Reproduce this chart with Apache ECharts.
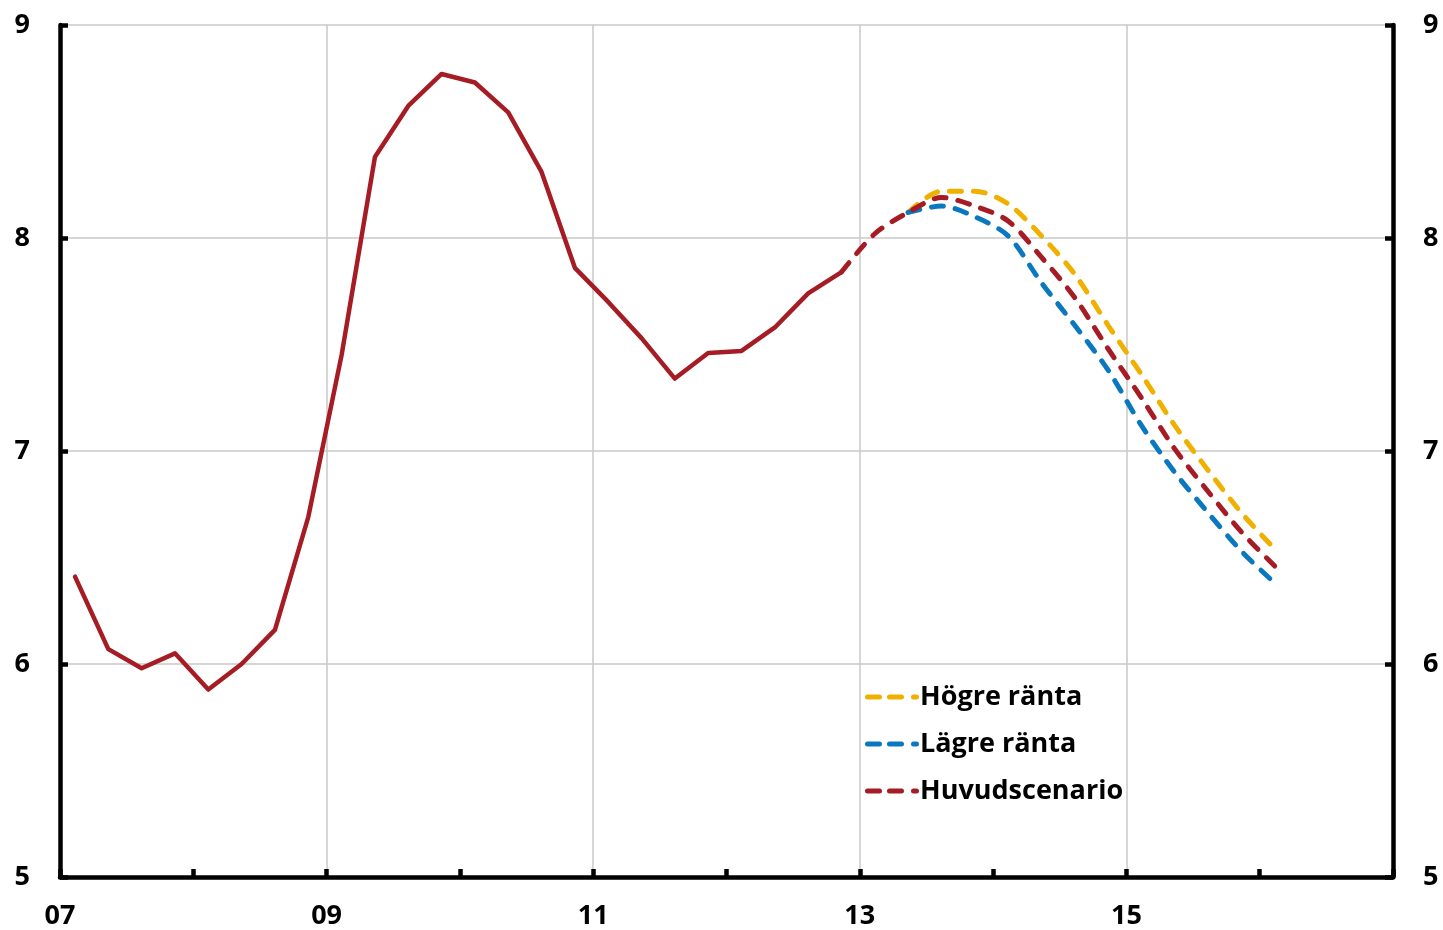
<!DOCTYPE html>
<html>
<head>
<meta charset="utf-8">
<script src="https://cdn.jsdelivr.net/npm/echarts@6/dist/echarts.min.js"></script>
<style>
html,body{margin:0;padding:0;background:#fff;}
#chart{width:1443px;height:930px;}
</style>
</head>
<body>
<div id="chart"></div>
<script>
// Quarterly data, 2007K1 onwards
const startYear = 2007;
const historik = [6.41, 6.07, 5.98, 6.05, 5.88, 6.00, 6.16, 6.69, 7.45, 8.38, 8.62, 8.77,
                  8.73, 8.59, 8.31, 7.86, 7.70, 7.53, 7.34, 7.46, 7.47, 7.58, 7.74, 7.84];
// forecasts
const huvudStart = 23; // 2012K4
const huvudscenario = [7.84, 8.02, 8.12, 8.19, 8.15, 8.08, 7.91, 7.72, 7.48, 7.25, 7.01, 6.81, 6.62, 6.46];
const scenStart = 25; // 2013K2
const hogreRanta = [8.12, 8.22, 8.22, 8.16, 8.01, 7.83, 7.59, 7.36, 7.12, 6.91, 6.71, 6.54];
const lagreRanta = [8.12, 8.15, 8.10, 8.01, 7.79, 7.59, 7.38, 7.12, 6.90, 6.71, 6.53, 6.38];
const yTicks = [5, 6, 7, 8, 9];
const seriesNames = ['Högre ränta', 'Lägre ränta', 'Huvudscenario'];

function qx(i) { // quarter index -> decimal year at mid-quarter
  const y = startYear + Math.floor(i / 4);
  const q = (i % 4) + 1;
  return y + (q - 0.55) / 4;
}
function toPairs(arr, start) { return arr.map((v, k) => [qx(start + k), v]); }

const RED = '#A51C24', YELLOW = '#F0B000', BLUE = '#0A78BF';
const FONT = 'Open Sans';
const dashIcon = 'path://M2.5,0H14.5A2.5,2.5,0,0,1,14.5,5H2.5A2.5,2.5,0,0,1,2.5,0Z M24.5,0H36.5A2.5,2.5,0,0,1,36.5,5H24.5A2.5,2.5,0,0,1,24.5,0Z M48.5,0H51.5A2.5,2.5,0,0,1,51.5,5H48.5A2.5,2.5,0,0,1,48.5,0Z';

const dashStyle = (c) => ({ color: c, width: 5, type: [12, 12], cap: 'round' });

const chart = echarts.init(document.getElementById('chart'));
chart.setOption({
  backgroundColor: '#fff',
  animation: false,
  textStyle: { fontFamily: FONT },
  grid: { left: 60, right: 50, top: 25, bottom: 53 },
  legend: {
    orient: 'vertical', left: 860, top: 677,
    data: seriesNames.map(n => ({ name: n, icon: dashIcon })),
    itemWidth: 56, itemHeight: 5, itemGap: 17,
    textStyle: { fontFamily: FONT, fontSize: 27, fontWeight: 'bold', color: '#000', lineHeight: 30, padding: [0, 0, 0, -5] },
    selectedMode: false
  },
  xAxis: {
    type: 'value', min: 2007, max: 2017, interval: 2,
    axisLine: { show: true, onZero: false, lineStyle: { color: '#000', width: 4.5 } },
    axisTick: { show: true, inside: true, length: 8, lineStyle: { color: '#000', width: 4.5 } },
    minorTick: { show: true, splitNumber: 2, length: 8, lineStyle: { color: '#000', width: 4.5 } },
    splitLine: { show: true, lineStyle: { color: '#c8c8c8', width: 1.5 } },
    axisLabel: {
      margin: 26, fontSize: 27, fontWeight: 'bold', color: '#000', fontFamily: FONT,
      showMaxLabel: false,
      formatter: v => (v >= 2017 ? '' : String(v).slice(2))
    }
  },
  yAxis: [{
    type: 'value', min: yTicks[0], max: yTicks[yTicks.length - 1], interval: 1, position: 'left',
    axisLine: { show: true, lineStyle: { color: '#000', width: 4.5 } },
    axisTick: { show: true, inside: true, length: 8, lineStyle: { color: '#000', width: 4.5 } },
    splitLine: { show: true, lineStyle: { color: '#c8c8c8', width: 1.5 } },
    axisLabel: { margin: 30, fontSize: 27, fontWeight: 'bold', color: '#000', fontFamily: FONT }
  }, {
    type: 'value', min: yTicks[0], max: yTicks[yTicks.length - 1], interval: 1, position: 'right',
    axisLine: { show: true, lineStyle: { color: '#000', width: 4.5 } },
    axisTick: { show: true, inside: true, length: 8, lineStyle: { color: '#000', width: 4.5 } },
    splitLine: { show: false },
    axisLabel: { margin: 30, fontSize: 27, fontWeight: 'bold', color: '#000', fontFamily: FONT }
  }],
  series: [
    { name: 'Högre ränta', type: 'line', data: toPairs(hogreRanta, scenStart), showSymbol: false,
      smooth: 0.3, lineStyle: dashStyle(YELLOW), itemStyle: { color: YELLOW }, z: 2 },
    { name: 'Lägre ränta', type: 'line', data: toPairs(lagreRanta, scenStart), showSymbol: false,
      smooth: 0.3, lineStyle: dashStyle(BLUE), itemStyle: { color: BLUE }, z: 3 },
    { name: 'Huvudscenario', type: 'line', data: toPairs(huvudscenario, huvudStart), showSymbol: false,
      smooth: 0.3, lineStyle: dashStyle(RED), itemStyle: { color: RED }, z: 4 },
    { name: 'Utfall', type: 'line', data: toPairs(historik, 0), showSymbol: false,
      lineStyle: { color: RED, width: 4.5, cap: 'round', join: 'round' }, itemStyle: { color: RED }, z: 5 }
  ]
});
</script>
</body>
</html>
